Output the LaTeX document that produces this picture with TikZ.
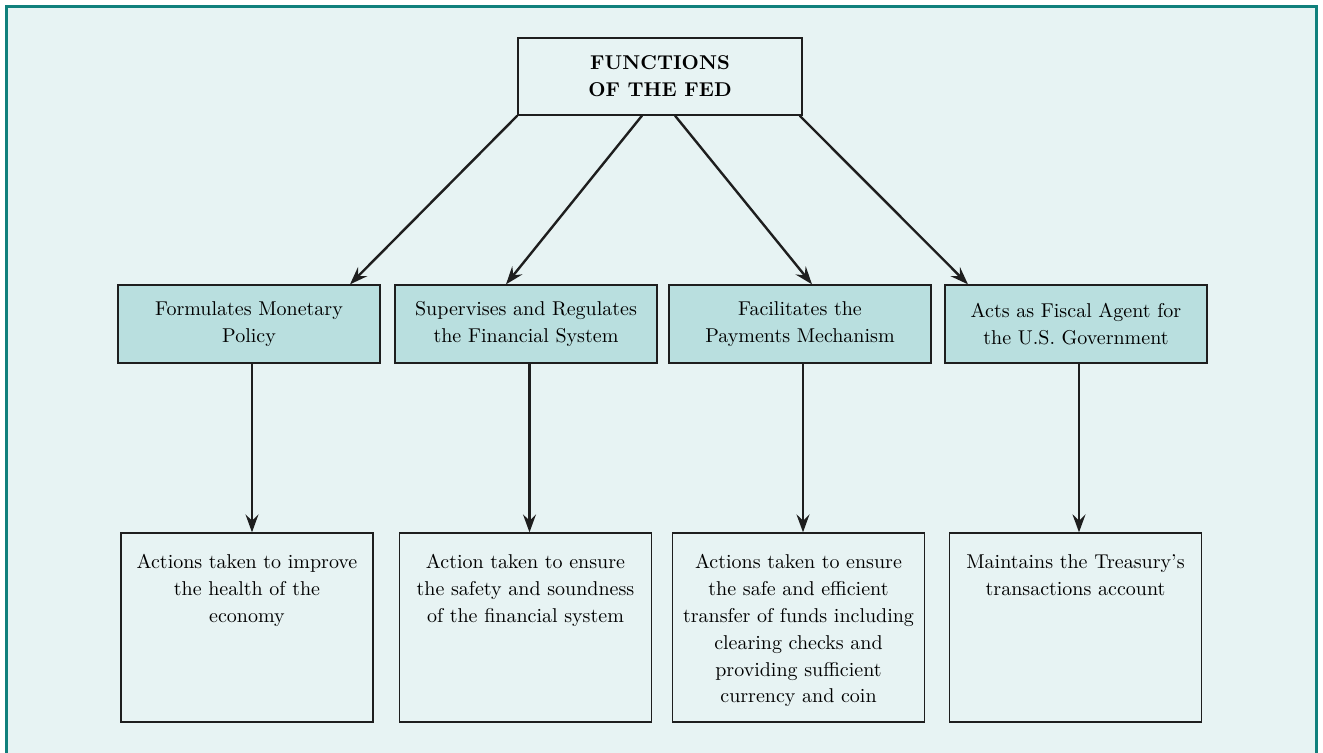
\documentclass[tikz,border=0pt]{standalone}
\usetikzlibrary{arrows.meta,positioning}
\definecolor{fedbg}{RGB}{231,243,243}
\definecolor{fedteal}{RGB}{185,223,223}
\definecolor{fedframe}{RGB}{16,128,124}
\definecolor{fedline}{RGB}{30,30,30}
\newcommand{\boxtext}[1]{\parbox[c][73pt][t]{124pt}{\centering #1}}

\begin{document}
\begin{tikzpicture}[x=0.5pt, y=-0.5pt,
    fn/.style={draw=fedline, line width=0.65pt, align=center, inner sep=0pt, font=\fontsize{10pt}{13.4pt}\selectfont},
    titlebox/.style={fn, fill=fedbg, minimum width=142pt, minimum height=38.5pt, font=\fontsize{10pt}{13.5pt}\selectfont\bfseries},
    funcbox/.style={fn, fill=fedteal, minimum width=131pt, minimum height=39pt},
    actbox/.style={fn, fill=fedbg, inner xsep=1pt, inner ysep=10.75pt},
    arr/.style={-{Stealth[length=9pt, width=6.5pt, inset=3.2pt]}, line width=1.2pt, draw=fedline}
]
\useasboundingbox (0,0) rectangle (1323,753);
\fill[white] (0,0) rectangle (1323,753);
\fill[fedbg] (6.2,6.2) rectangle (1316,770);
\draw[fedframe, line width=1.5pt] (6.2,770) -- (6.2,6.2) -- (1316,6.2) -- (1316,770);

\node[titlebox] (fed) at (660,76.5) {FUNCTIONS\\OF THE FED};

\node[funcbox] (mon) at (249,324) {Formulates Monetary\\Policy};
\node[funcbox] (reg) at (526,324) {Supervises and Regulates\\the Financial System};
\node[funcbox] (pay) at (800,324) {Facilitates the\\Payments Mechanism};
\node[funcbox] (fis) at (1076,324) {Acts as Fiscal Agent for\\the U.S. Government};

\node[actbox] (monact) at (247,627.5) {\boxtext{Actions taken to improve\\the health of the\\economy}};
\node[actbox] (regact) at (525.5,627.5) {\boxtext{Action taken to ensure\\the safety and soundness\\of the financial system}};
\node[actbox] (payact) at (798.5,627.5) {\boxtext{Actions taken to ensure\\the safe and efficient\\transfer of funds including\\clearing checks and\\providing sufficient\\currency and coin}};
\node[actbox] (fisact) at (1075.5,627.5) {\boxtext{Maintains the Treasury's\\transactions account}};

\draw[arr] (fed.south west) -- ([xshift=50.5pt]mon.north);
\draw[arr] ([xshift=-9pt]fed.south) -- ([xshift=-10pt]reg.north);
\draw[arr] ([xshift=7.5pt]fed.south) -- ([xshift=6pt]pay.north);
\draw[arr] ([xshift=-1.5pt]fed.south east) -- ([xshift=-54pt]fis.north);

\draw[arr] ([xshift=1.5pt]mon.south) -- ([xshift=1.5pt]mon.south |- monact.north);
\draw[arr] ([xshift=1.75pt]reg.south) -- ([xshift=1.75pt]reg.south |- regact.north);
\draw[arr] ([xshift=1.5pt]pay.south) -- ([xshift=1.5pt]pay.south |- payact.north);
\draw[arr] ([xshift=1.5pt]fis.south) -- ([xshift=1.5pt]fis.south |- fisact.north);
\end{tikzpicture}
\end{document}
